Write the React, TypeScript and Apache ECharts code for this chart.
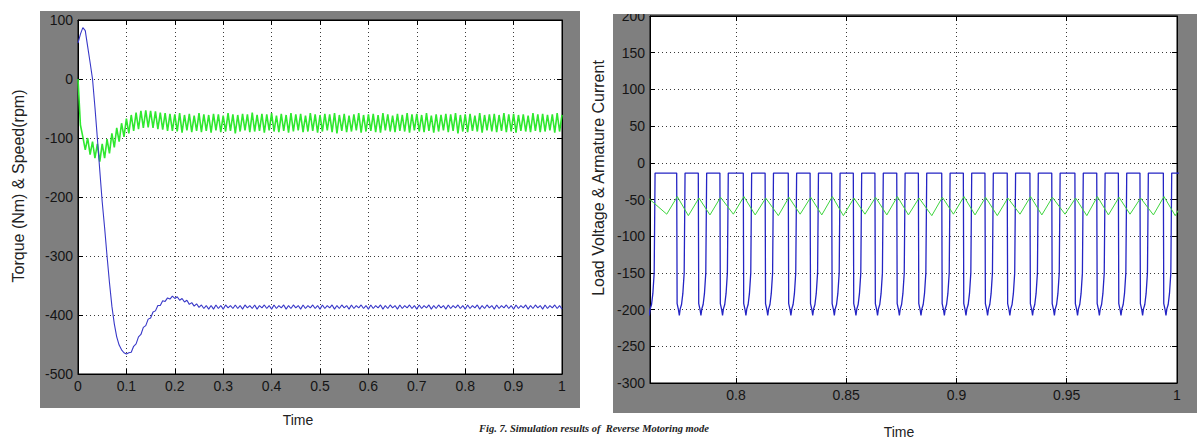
import React, { useEffect, useRef } from "react";
import * as echarts from "echarts";

// ---------- Left chart: Torque (Nm) & Speed (rpm) vs Time ----------
const leftStep = 0.005; // sampling step of the listed values (s)
const leftXTickInterval = 0.1;
const leftYMin = -500;
const leftYMax = 100;
const leftYInterval = 100;

// blue trace (speed)
const leftSpeed = [
  61, 76, 87, 82, 55, 28, 0, -48, -100, -155,
  -208, -252, -300, -345, -385, -415, -437, -451, -459, -464,
  -466, -464, -463, -453, -449, -437, -433, -421, -418, -407,
  -405, -395, -393, -384, -384, -376, -377, -371, -373, -368,
  -372, -369, -375, -372, -378, -375, -382, -379, -385, -381,
  -387, -383, -389, -384, -390,
  -384, -390, -383, -389, -384, -390, -383, -388, -384, -389,
  -383, -389, -384, -390, -383, -388, -384, -389, -383, -390,
  -384, -388, -383, -389, -384, -390, -383, -389, -384, -388,
  -383, -390, -384, -389, -383, -388, -384, -390, -383, -389,
  -384, -388, -383, -389, -384, -390, -383, -389, -384, -388,
  -383, -390, -384, -389, -383, -388, -384, -390, -383, -389,
  -384, -388, -383, -389, -384, -390, -383, -389, -384, -388,
  -383, -390, -384, -389, -383, -388, -384, -390, -383, -389,
  -384, -388, -383, -389, -384, -390, -383, -389, -384, -388,
  -383, -390, -384, -389, -383, -388, -384, -390, -383, -389,
  -384, -388, -383, -389, -384, -390, -383, -389, -384, -388,
  -383, -390, -384, -389, -383, -388, -384, -390, -383, -389,
  -384, -388, -383, -389, -384, -390, -383, -389, -384, -388,
  -383, -390, -384, -389, -383, -388, -384, -390, -383, -389,
  -384, -388, -383, -389, -384, -390,
];

// green trace (torque)
const leftTorque = [
  0, -78, -98, -120, -100, -128, -106, -134, -110, -140,
  -110, -134, -102, -126, -92, -116, -83, -106, -75, -98,
  -67, -92, -61, -88, -57, -85, -54, -83, -53, -82,
  -54, -83, -55, -85, -57, -86, -58, -88, -59, -88,
  -60, -89, -58, -91, -61, -87, -59, -90, -62, -88,
  -58, -90, -60, -88, -61, -91, -59, -87, -60, -90,
  -62, -89, -58, -88, -60, -92, -61, -89, -59, -87,
  -60, -90, -57, -89, -61, -88, -59, -91, -60, -87,
  -58, -89, -62, -90, -59, -88, -61, -91, -58, -89,
  -60, -87, -59, -90, -62, -89, -58, -88, -60, -91,
  -61, -89, -59, -87, -60, -90, -58, -92, -61, -88,
  -59, -90, -62, -89, -60, -87, -58, -91, -61, -89,
  -60, -88, -59, -90, -61, -91, -58, -87, -60, -89,
  -62, -90, -59, -88, -61, -89, -58, -91, -60, -87,
  -59, -89, -61, -90, -58, -88, -62, -91, -60, -89,
  -61, -87, -59, -90, -60, -88, -58, -92, -61, -89,
  -60, -90, -59, -88, -62, -89, -58, -91, -61, -87,
  -60, -89, -59, -90, -61, -88, -58, -90, -60, -89,
  -59, -91, -61, -88, -60, -89, -62, -90, -58, -88,
  -60, -90, -59, -89, -61, -87, -60, -91, -58, -89,
  -61,
];

// ---------- Right chart: Load Voltage & Armature Current vs Time ----------
const rightXMin = 0.761;
const rightXMax = 1;
const rightYMin = -300;
const rightYMax = 200;
const rightYInterval = 50;

// instants where the voltage pulse falls from the top level
const voltageFallTimes = [
  0.7595, 0.7731, 0.7829, 0.7927, 0.8033, 0.8132, 0.8237, 0.8336, 0.8434,
  0.8532, 0.863, 0.8729, 0.8827, 0.8933, 0.9031, 0.9129, 0.923, 0.9333,
  0.9432, 0.9537, 0.9636, 0.9734, 0.9832, 0.9938, 1.0037,
];
// shape of one low excursion, relative to its fall instant
const pulseOffsets = [0, 0.0002, 0.0008, 0.0012, 0.0016, 0.0022, 0.0028, 0.0034, 0.0038];
const pulseValues = [-14, -192, -200, -208, -199, -193, -178, -150, -14];

// armature current: triangle wave, peak near each fall, trough before it
const currentTroughOffset = -0.0045;
const currentPeakOffset = 0.0003;
const currentPeaks = [
  -47, -46, -48, -47, -46, -48, -47, -47, -46, -48, -47, -46, -48,
  -47, -46, -47, -48, -46, -47, -48, -46, -47, -48, -46, -47,
];
const currentTroughs = [
  -71, -70, -72, -71, -70, -71, -72, -70, -71, -72, -70, -71, -71,
  -72, -70, -71, -72, -70, -71, -70, -72, -71, -70, -71, -72,
];

const FONT = "'Liberation Sans', Arial, sans-serif";
const GREY = "#7f7f7f";

function buildOption() {
  const speedData = leftSpeed.map((v, i) => [+(i * leftStep).toFixed(4), v]);
  const torqueData = leftTorque.map((v, i) => [+(i * leftStep).toFixed(4), v]);

  const voltageData: number[][] = [];
  voltageFallTimes.forEach((tf) => {
    pulseOffsets.forEach((o, k) => voltageData.push([tf + o, pulseValues[k]]));
  });
  const currentData: number[][] = [];
  voltageFallTimes.forEach((tf, i) => {
    currentData.push([tf + currentTroughOffset, currentTroughs[i]]);
    currentData.push([tf + currentPeakOffset, currentPeaks[i]]);
  });

  const tickLabel = { fontFamily: FONT, fontSize: 14, color: "#151515" };
  const splitLine = {
    show: true,
    lineStyle: { color: "#3a3a3a", type: [1, 3] as any, width: 1 },
  };
  const axisLine = { show: true, onZero: false, lineStyle: { color: "#000", width: 1 } };
  const tick = { show: true, inside: true, length: 5, lineStyle: { color: "#000" } };
  const hiddenBox = {
    axisLine,
    axisTick: tick,
    axisLabel: { show: false },
    splitLine: { show: false },
  };

  return {
    animation: false,
    backgroundColor: "#ffffff",
    grid: [
      {
        left: 78, top: 20, width: 484, height: 354,
        show: true, backgroundColor: "#ffffff", borderColor: "#000", borderWidth: 1,
      },
      {
        left: 650, top: 16, width: 527, height: 367,
        show: true, backgroundColor: "#ffffff", borderColor: "#000", borderWidth: 1,
      },
    ],
    xAxis: [
      {
        type: "value", gridIndex: 0, position: "bottom",
        min: 0, max: 1, interval: leftXTickInterval,
        axisLine, axisTick: tick,
        axisLabel: { ...tickLabel, margin: 5 },
        splitLine,
      },
      {
        type: "value", gridIndex: 0, position: "top",
        min: 0, max: 1, interval: leftXTickInterval,
        ...hiddenBox,
      },
      {
        type: "value", gridIndex: 1, position: "bottom",
        min: rightXMin, max: rightXMax, splitNumber: 5,
        axisLine, axisTick: tick,
        axisLabel: { ...tickLabel, margin: 5, showMinLabel: false },
        splitLine,
      },
      {
        type: "value", gridIndex: 1, position: "top",
        min: rightXMin, max: rightXMax, splitNumber: 5,
        ...hiddenBox,
      },
    ],
    yAxis: [
      {
        type: "value", gridIndex: 0, position: "left",
        min: leftYMin, max: leftYMax, interval: leftYInterval,
        axisLine, axisTick: tick,
        axisLabel: { ...tickLabel, margin: 5 },
        splitLine,
      },
      {
        type: "value", gridIndex: 0, position: "right",
        min: leftYMin, max: leftYMax, interval: leftYInterval,
        ...hiddenBox,
      },
      {
        type: "value", gridIndex: 1, position: "left",
        min: rightYMin, max: rightYMax, interval: rightYInterval,
        axisLine, axisTick: tick,
        axisLabel: { ...tickLabel, margin: 5 },
        splitLine,
      },
      {
        type: "value", gridIndex: 1, position: "right",
        min: rightYMin, max: rightYMax, interval: rightYInterval,
        ...hiddenBox,
      },
    ],
    series: [
      {
        name: "Torque", type: "line", xAxisIndex: 0, yAxisIndex: 0,
        data: torqueData, showSymbol: false, clip: true,
        lineStyle: { color: "#2fe82f", width: 1.6 },
      },
      {
        name: "Speed", type: "line", xAxisIndex: 0, yAxisIndex: 0,
        data: speedData, showSymbol: false, clip: true,
        lineStyle: { color: "#3838c8", width: 1.1 },
      },
      {
        name: "Load Voltage", type: "line", xAxisIndex: 2, yAxisIndex: 2,
        data: voltageData, showSymbol: false, clip: true,
        lineStyle: { color: "#2424c4", width: 1.3 },
      },
      {
        name: "Armature Current", type: "line", xAxisIndex: 2, yAxisIndex: 2,
        data: currentData, showSymbol: false, clip: true,
        lineStyle: { color: "#3fd43f", width: 1 },
      },
    ],
    graphic: [
      { type: "rect", z: -10, shape: { x: 40, y: 11, width: 540, height: 397 }, style: { fill: GREY } },
      { type: "rect", z: -10, shape: { x: 613, y: 14, width: 584, height: 399 }, style: { fill: GREY } },
      { type: "rect", z: 100, shape: { x: 613, y: 0, width: 60, height: 14 }, style: { fill: "#ffffff" } },
      {
        type: "text", x: 298, y: 420,
        style: { text: "Time", fontFamily: FONT, fontSize: 14, fill: "#222", align: "center", verticalAlign: "middle" },
      },
      {
        type: "text", x: 899, y: 432,
        style: { text: "Time", fontFamily: FONT, fontSize: 14, fill: "#222", align: "center", verticalAlign: "middle" },
      },
      {
        type: "text", x: 18, y: 186, rotation: Math.PI / 2,
        style: { text: "Torque (Nm) & Speed(rpm)", fontFamily: FONT, fontSize: 16, fill: "#222", align: "center", verticalAlign: "middle" },
      },
      {
        type: "text", x: 598, y: 178, rotation: Math.PI / 2,
        style: { text: "Load Voltage & Armature Current", fontFamily: FONT, fontSize: 16, fill: "#222", align: "center", verticalAlign: "middle" },
      },
      {
        type: "text", x: 594, y: 428,
        style: {
          text: "Fig. 7. Simulation results of  Reverse Motoring mode",
          fontFamily: "'Liberation Serif', 'Times New Roman', serif",
          fontStyle: "italic", fontWeight: "bold", fontSize: 10.5, fill: "#222",
          align: "center", verticalAlign: "middle",
        },
      },
    ],
  };
}

export default function App() {
  const ref = useRef<HTMLDivElement>(null);
  useEffect(() => {
    document.body.style.margin = "0";
    const chart = echarts.init(ref.current as HTMLDivElement, null, { renderer: "svg" });
    chart.setOption(buildOption() as any);
    return () => chart.dispose();
  }, []);
  return <div ref={ref} style={{ width: 1197, height: 442 }} />;
}
